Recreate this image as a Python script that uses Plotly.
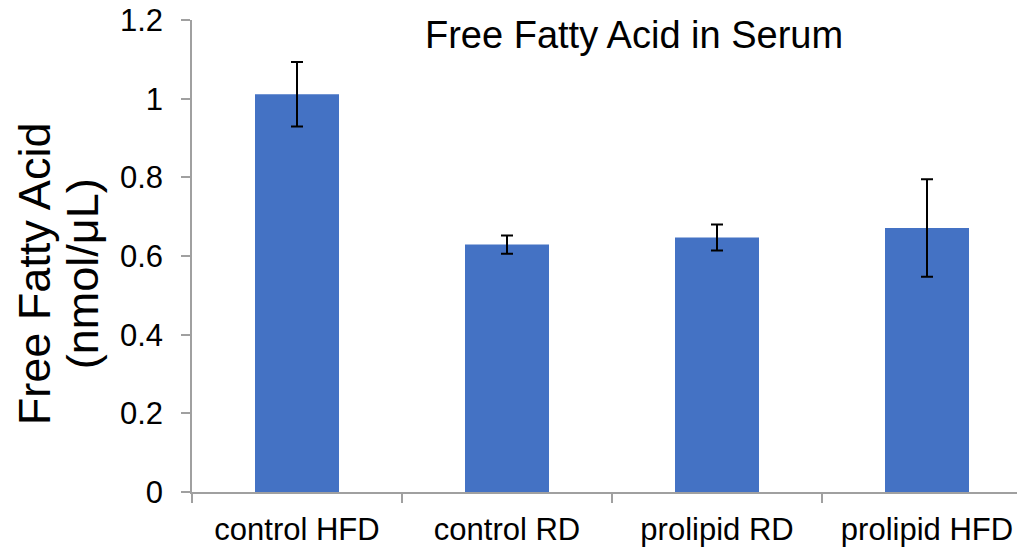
import plotly.graph_objects as go

categories = ["control HFD", "control RD", "prolipid RD", "prolipid HFD"]
values = [1.011, 0.629, 0.647, 0.671]
errors = [0.082, 0.023, 0.033, 0.124]

title_text = "Free Fatty Acid in Serum"
ytitle_line1 = "Free Fatty Acid"
ytitle_line2 = "(nmol/μL)"

FONT = "Arial, Liberation Sans, sans-serif"
AXIS_COLOR = "#a0a0a0"

fig = go.Figure()
fig.add_trace(go.Bar(
    x=categories, y=values,
    width=0.4,
    marker=dict(color="#4472C4", line=dict(width=0)),
    error_y=dict(type="data", array=errors, visible=True,
                 color="black", thickness=2, width=6),
))

# page body has an 8px margin, so the figure is sized to fill the window from there
W, H = 1017, 542
ML, MR, MT, MB = 184, 0, 12, 58
px_per_cat = 210
span = (W - ML - MR) / px_per_cat

fig.update_layout(
    width=W, height=H,
    margin=dict(l=ML, r=MR, t=MT, b=MB, autoexpand=False),
    paper_bgcolor="white", plot_bgcolor="white",
    showlegend=False,
    font=dict(family=FONT, color="black", size=31),
    xaxis=dict(
        range=[-0.5, -0.5 + span], automargin=False,
        showline=True, linecolor=AXIS_COLOR, linewidth=1.5,
        ticks="outside", tickson="boundaries", ticklen=9, tickcolor=AXIS_COLOR, tickwidth=1.5,
        ticklabelstandoff=9, ticklabeloverflow="allow",
        tickfont=dict(size=31, family=FONT, color="black"),
        showgrid=False, zeroline=False,
    ),
    yaxis=dict(
        range=[0, 1.2], dtick=0.2, tick0=0, automargin=False,
        showline=True, linecolor=AXIS_COLOR, linewidth=1.5,
        ticks="outside", ticklen=9, tickcolor=AXIS_COLOR, tickwidth=1.5,
        ticklabelstandoff=12, ticklabeloverflow="allow",
        tickfont=dict(size=31, family=FONT, color="black"),
        showgrid=False, zeroline=False,
    ),
)

fig.add_annotation(
    text=title_text, xref="paper", yref="paper",
    x=(626 - ML) / (W - ML - MR), y=1, xanchor="center", yanchor="middle",
    yshift=-15, showarrow=False,
    font=dict(size=38, family=FONT, color="black"),
)
fig.add_annotation(
    text=ytitle_line1, xref="paper", yref="paper",
    x=0, y=0.5, xanchor="center", yanchor="middle",
    xshift=-158, yshift=255.8 - 274, textangle=-90, showarrow=False,
    font=dict(size=45, family=FONT, color="black"),
)
fig.add_annotation(
    text=ytitle_line2, xref="paper", yref="paper",
    x=0, y=0.5, xanchor="center", yanchor="middle",
    xshift=-110, yshift=255.8 - 274, textangle=-90, showarrow=False,
    font=dict(size=45, family=FONT, color="black"),
)

fig.write_html("out.html")
